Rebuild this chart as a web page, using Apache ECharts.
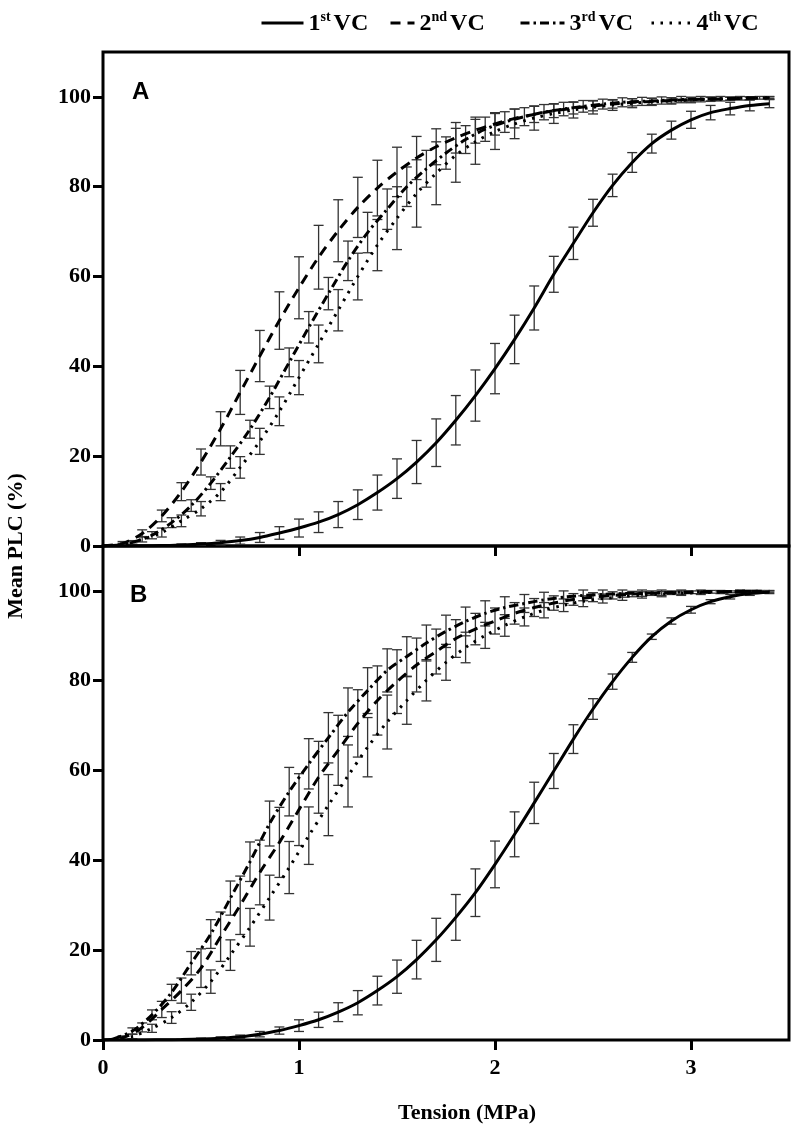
<!DOCTYPE html>
<html>
<head>
<meta charset="utf-8">
<script src="https://cdn.jsdelivr.net/npm/echarts@6/dist/echarts.min.js"></script>
<style>
html,body{margin:0;padding:0;background:#fff;}
#chart{width:793px;height:1132px;}
</style>
</head>
<body>
<div id="chart"></div>
<script>
// ---------- data ----------
const seriesNames = ['1st VC', '2nd VC', '3rd VC', '4th VC'];
const xTicks = [0, 1, 2, 3];
const yTicks = [0, 20, 40, 60, 80, 100];

const tension = [0,0.1,0.2,0.3,0.4,0.5,0.6,0.7,0.8,0.9,1.0,1.1,1.2,1.3,1.4,1.5,1.6,1.7,1.8,1.9,2.0,2.1,2.2,2.3,2.4,2.5,2.6,2.7,2.8,2.9,3.0,3.1,3.2,3.3,3.4];
const tensionMid = [0.05,0.15,0.25,0.35,0.45,0.55,0.65,0.75,0.85,0.95,1.05,1.15,1.25,1.35,1.45,1.55,1.65,1.75,1.85,1.95,2.05,2.15,2.25,2.35,2.45,2.55,2.65,2.75,2.85,2.95,3.05,3.15,3.25,3.35];

// Panel A
const a1 = [0,0,0.05,0.1,0.25,0.45,0.75,1.2,1.9,2.9,4.0,5.3,7.0,9.2,11.9,15.0,18.7,23.0,28.0,33.5,39.5,46.0,53.0,60.5,67.4,74.2,80.3,85.4,89.6,92.6,94.9,96.5,97.4,98.1,98.5];
const a1Err = [0,0,0,0.1,0.2,0.3,0.5,0.8,1.1,1.4,2.0,2.3,2.9,3.3,3.9,4.4,4.8,5.3,5.5,5.7,5.6,5.4,4.9,4.0,3.6,3.0,2.5,2.2,2.1,2.0,1.9,1.6,1.4,1.2,0.9];
const a2 = [0,0.6,2.8,6.7,12.1,18.7,26.1,34.2,42.3,50.2,57.5,64.3,70.2,75.4,79.7,83.3,86.4,88.9,90.9,92.6,94.0,95.2,96.1,96.9,97.5,98.0,98.4,98.8,99.0,99.2,99.4,99.5,99.6,99.7,99.8];
const a2Err = [0,0.4,0.8,1.3,2.0,2.9,3.8,4.9,5.7,6.4,6.9,7.1,6.9,6.7,6.2,5.5,4.8,4.0,3.4,2.9,2.5,2.1,1.8,1.5,1.3,1.1,0.9,0.8,0.7,0.6,0.5,0.4,0.3,0.3,0.2];
const a3 = [0.1,0.8,2.4,5.2,9.0,14.0,19.8,26.0,33.1,40.9,48.7,56.2,63.5,69.8,75.0,80.0,84.0,87.5,90.5,92.8,94.4,95.6,96.6,97.3,97.9,98.4,98.8,99.0,99.2,99.4,99.5,99.6,99.7,99.8];
const a3Err = [0,0.4,0.8,1.1,1.3,1.4,2.5,2.0,2.5,3.2,3.5,3.6,4.4,4.5,4.5,4.4,4.1,3.6,3.1,2.7,2.3,2.0,1.7,1.5,1.3,1.1,1.0,0.9,0.8,0.7,0.6,0.5,0.4,0.3];
const a4 = [0,0.3,1.5,3.0,5.6,8.3,12.0,17.5,23.3,30.0,37.5,45.0,52.5,60.0,67.0,73.0,78.5,83.0,87.0,90.0,92.3,94.0,95.3,96.3,97.1,97.7,98.2,98.6,98.9,99.1,99.3,99.5,99.6,99.7,99.8];
const a4Err = [0,0.3,0.6,1.0,1.3,1.6,1.9,2.4,2.9,3.2,3.8,4.2,4.6,5.2,5.7,7.0,7.5,7.0,6.0,5.0,4.0,3.3,2.7,2.2,1.8,1.5,1.2,1.0,0.8,0.7,0.6,0.5,0.4,0.3,0.3];

// Panel B
const b1 = [0,0,0,0.05,0.1,0.2,0.4,0.7,1.3,2.1,3.2,4.5,6.2,8.3,11.0,14.1,17.9,22.3,27.3,32.8,39.1,45.8,52.8,59.9,67.0,73.7,79.8,85.2,89.8,93.3,95.8,97.6,98.7,99.4,99.7];
const b1Err = [0,0,0,0,0.1,0.2,0.3,0.4,0.6,0.8,1.3,1.7,2.1,2.7,3.2,3.7,4.3,4.8,5.1,5.3,5.2,5.0,4.6,3.9,3.2,2.3,1.7,1.1,0.6,0.7,0.75,0.45,0.5,0.4,0.3];
const b2 = [0,0.5,2.8,6.8,11.0,16.0,23.0,30.0,37.3,44.0,51.3,58.5,64.5,70.5,75.6,79.8,83.5,86.5,89.4,91.5,93.3,95.0,96.3,97.3,98.1,98.6,99.0,99.3,99.5,99.6,99.7,99.8,99.8,99.9,99.9];
const b2Err = [0,0.4,1.0,1.8,2.8,4.3,5.5,6.5,7.2,7.8,8.0,8.0,7.8,7.5,7.7,7.1,6.0,5.0,4.2,3.5,2.9,2.4,2.0,1.6,1.3,1.0,0.8,0.6,0.5,0.4,0.3,0.3,0.2,0.2,0.2];
const b3 = [0.2,2.0,5.6,10.6,17.1,23.6,31.6,39.7,48.2,55.3,61.5,67.3,73.0,77.8,82.3,85.4,88.4,91.0,93.2,95.0,96.3,97.2,98.0,98.6,99.0,99.2,99.4,99.5,99.6,99.7,99.8,99.8,99.9,99.9];
const b3Err = [0,0.7,1.1,1.8,2.6,3.2,3.8,4.4,5.0,5.4,5.6,5.6,5.4,5.1,4.8,4.4,4.0,3.6,3.2,2.8,2.4,2.0,1.7,1.4,1.2,1.0,0.8,0.7,0.6,0.5,0.4,0.3,0.3,0.2];
const b4 = [0.1,0.8,2.6,5.0,8.4,13.0,18.9,25.1,31.7,38.4,45.5,52.3,58.8,65.2,70.8,75.6,80.1,84.1,87.4,90.1,92.3,94.2,95.7,96.8,97.7,98.3,98.7,99.1,99.3,99.5,99.6,99.7,99.8,99.8];
const b4Err = [0,0.5,0.9,1.3,1.8,2.6,3.4,4.2,5.0,5.8,6.4,6.8,6.9,6.6,6.0,5.3,4.6,4.0,3.4,2.9,2.4,2.0,1.7,1.4,1.2,1.0,0.8,0.7,0.6,0.5,0.4,0.3,0.3,0.2];

// ---------- chart ----------
const SERIF = '"Liberation Serif", "Times New Roman", serif';
const SANS = '"Liberation Sans", Arial, sans-serif';
const dashTypes = ['solid', [10, 7], [9, 4, 2.5, 4], [2.5, 6.5]];

const panels = [
  { xs: [tension, tension, tensionMid, tension], ys: [a1, a2, a3, a4], es: [a1Err, a2Err, a3Err, a4Err] },
  { xs: [tension, tension, tensionMid, tensionMid], ys: [b1, b2, b3, b4], es: [b1Err, b2Err, b3Err, b4Err] }
];

function renderErr(params, api) {
  const x = api.value(0), m = api.value(1), e = api.value(2);
  if (!(e > 0)) return null;
  const t = api.coord([x, m + e]);
  const b = api.coord([x, m - e]);
  const hw = 5;
  const st = { stroke: '#333', lineWidth: 1.3 };
  return {
    type: 'group',
    children: [
      { type: 'line', shape: { x1: t[0], y1: t[1], x2: b[0], y2: b[1] }, style: st },
      { type: 'line', shape: { x1: t[0] - hw, y1: t[1], x2: t[0] + hw, y2: t[1] }, style: st },
      { type: 'line', shape: { x1: b[0] - hw, y1: b[1], x2: b[0] + hw, y2: b[1] }, style: st }
    ]
  };
}

const series = [];
panels.forEach((p, pi) => {
  for (let k = 0; k < 4; k++) {
    series.push({
      type: 'custom',
      name: 'err' + pi + k,
      xAxisIndex: pi, yAxisIndex: pi,
      renderItem: renderErr,
      encode: { x: 0, y: 1 },
      data: p.xs[k].map((x, i) => [x, p.ys[k][i], p.es[k][i]]),
      z: 2, silent: true, clip: true
    });
  }
  for (let k = 0; k < 4; k++) {
    series.push({
      type: 'line',
      name: seriesNames[k],
      xAxisIndex: pi, yAxisIndex: pi,
      data: p.xs[k].map((x, i) => [x, p.ys[k][i]]),
      symbol: 'none', showSymbol: false,
      smooth: 0.3,
      lineStyle: { color: '#000', width: 3, type: dashTypes[k] },
      itemStyle: { color: '#000' },
      z: 3, silent: true
    });
  }
});

function xAxisDef(gi, showLabels) {
  return {
    type: 'value', gridIndex: gi, min: 0, max: 3.5,
    axisLine: { show: false },
    axisTick: { show: true, inside: false, length: 10, lineStyle: { color: '#000', width: 3 }, customValues: showLabels ? xTicks : xTicks.slice(1) },
    axisLabel: { show: showLabels, customValues: xTicks, margin: 17, fontFamily: SERIF, fontWeight: 'bold', fontSize: 22, color: '#000' },
    splitLine: { show: false }
  };
}
function yAxisDef(gi) {
  return {
    type: 'value', gridIndex: gi, min: 0, max: 110,
    axisLine: { show: false },
    axisTick: { show: true, inside: false, length: 10, lineStyle: { color: '#000', width: 3 }, customValues: yTicks },
    axisLabel: { customValues: yTicks, margin: 12, fontFamily: SERIF, fontWeight: 'bold', fontSize: 22, color: '#000' },
    splitLine: { show: false }
  };
}

// one legend component per entry so each icon can have its own length
const legendLefts = [255, 384, 514, 645];
const legendIconWidths = [42, 24, 44, 40];
const legends = seriesNames.map((nm, k) => ({
  data: [nm],
  left: legendLefts[k], top: 5,
  itemWidth: legendIconWidths[k], itemHeight: 14, itemGap: 0,
  selectedMode: false,
  itemStyle: { opacity: 0 },
  lineStyle: { width: 3 },
  textStyle: {
    fontFamily: SERIF, fontWeight: 'bold', fontSize: 24, color: '#000',
    rich: {
      n: { fontFamily: SERIF, fontWeight: 'bold', fontSize: 24, color: '#000', lineHeight: 26, verticalAlign: 'bottom' },
      s: { fontFamily: SERIF, fontWeight: 'bold', fontSize: 14, color: '#000', lineHeight: 26, verticalAlign: 'top', padding: [0, 3, 0, 0] }
    }
  },
  formatter: function (name) {
    const m = name.match(/^(\d)([a-z]+) (VC)$/);
    return '{n|' + m[1] + '}{s|' + m[2] + '}{n|' + m[3] + '}';
  }
}));

const option = {
  animation: false,
  backgroundColor: '#fff',
  legend: legends,
  grid: [
    { left: 103, top: 52, width: 686, height: 494, show: true, borderColor: '#000', borderWidth: 3, backgroundColor: 'transparent', containLabel: false },
    { left: 103, top: 546, width: 686, height: 494, show: true, borderColor: '#000', borderWidth: 3, backgroundColor: 'transparent', containLabel: false }
  ],
  xAxis: [xAxisDef(0, false), xAxisDef(1, true)],
  yAxis: [yAxisDef(0), yAxisDef(1)],
  graphic: [
    { type: 'text', x: 132, y: 92, style: { text: 'A', font: 'bold 24px ' + SANS, fill: '#000', verticalAlign: 'middle', align: 'left' } },
    { type: 'text', x: 130, y: 595, style: { text: 'B', font: 'bold 24px ' + SANS, fill: '#000', verticalAlign: 'middle', align: 'left' } },
    { type: 'text', x: 16, y: 546, rotation: Math.PI / 2, style: { text: 'Mean PLC (%)', font: 'bold 22px ' + SERIF, fill: '#000', align: 'center', verticalAlign: 'middle' } },
    { type: 'text', x: 467, y: 1113, style: { text: 'Tension (MPa)', font: 'bold 22px ' + SERIF, fill: '#000', align: 'center', verticalAlign: 'middle' } }
  ],
  series: series
};

const chart = echarts.init(document.getElementById('chart'), null, { renderer: 'canvas' });
chart.setOption(option);
</script>
</body>
</html>
